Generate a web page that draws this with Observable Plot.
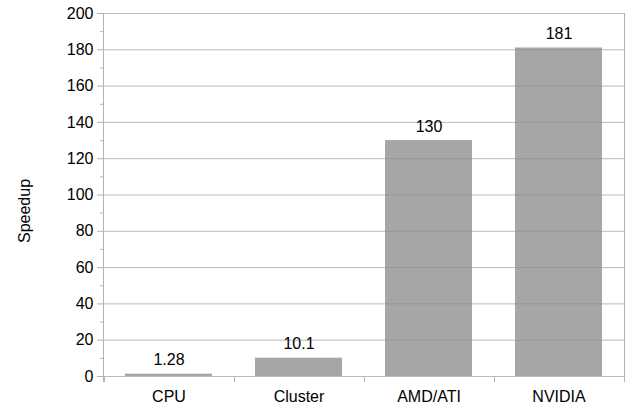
<!DOCTYPE html>
<html>
<head>
<meta charset="utf-8">
<script src="https://cdn.jsdelivr.net/npm/d3@7"></script>
<script src="https://cdn.jsdelivr.net/npm/@observablehq/plot@0.6"></script>
<style>
  html, body { margin: 0; padding: 0; background: #fff; }
  svg { display: block; }
</style>
</head>
<body>
<div id="chart"></div>
<script>
const categories = ["CPU", "Cluster", "AMD/ATI", "NVIDIA"];
const speedups = [1.28, 10.1, 130, 181];
const labels = ["1.28", "10.1", "130", "181"];
const majorTicks = [0, 20, 40, 60, 80, 100, 120, 140, 160, 180, 200];
const minorTicks = [10, 30, 50, 70, 90, 110, 130, 150, 170, 190];
const yTitle = "Speedup";

const data = categories.map((c, i) => ({category: c, value: speedups[i], label: labels[i]}));

const gridColor = "#b3b3b3";

// left axis line, right border, and boundary ticks below the x axis
function frameLines(index, scales, values, dimensions) {
  const x = scales.x;
  const step = x.step();
  const bw = x.bandwidth();
  const y0 = dimensions.height - dimensions.marginBottom;
  const top = dimensions.marginTop;
  const left = dimensions.marginLeft;
  const right = dimensions.width - dimensions.marginRight;
  const g = d3.create("svg:g").attr("stroke", gridColor);
  const edges = categories.map(c => x(c) + bw / 2 - step / 2);
  edges.push(x(categories[categories.length - 1]) + bw / 2 + step / 2);
  for (const e of edges) {
    g.append("line")
      .attr("x1", Math.round(e) + 0.5).attr("x2", Math.round(e) + 0.5)
      .attr("y1", y0).attr("y2", y0 + 6);
  }
  g.append("line").attr("x1", left + 0.5).attr("x2", left + 0.5).attr("y1", top).attr("y2", y0 + 6);
  g.append("line").attr("x1", right + 0.5).attr("x2", right + 0.5).attr("y1", top).attr("y2", y0);
  return g.node();
}

const chart = Plot.plot({
  width: 632,
  height: 411,
  marginLeft: 103,
  marginRight: 8,
  marginTop: 13,
  marginBottom: 35,
  style: {fontFamily: "'Liberation Sans', Arial, sans-serif", fontSize: "16px", color: "#000", background: "#fff"},
  x: {domain: categories, paddingInner: 0.33, paddingOuter: 0.165},
  y: {domain: [0, 200]},
  marks: [
    Plot.barY(data, {x: "category", y: "value", fill: "#a6a6a6"}),
    Plot.gridY(majorTicks, {stroke: "#8e8e8e", strokeOpacity: 0.6}),
    Plot.axisY(majorTicks, {tickSize: 6, tickPadding: 4, stroke: gridColor, fill: "#000", fontSize: 16, label: null}),
    Plot.axisY(minorTicks, {tickSize: 3, text: null, stroke: gridColor, label: null}),
    Plot.text([yTitle], {frameAnchor: "left", textAnchor: "middle", lineAnchor: "middle", rotate: -90, dx: -79, dy: 16, fill: "#000", fontSize: 16}),
    Plot.axisX({tickSize: 0, tickPadding: 14, fill: "#000", fontSize: 16, label: null}),
    Plot.text(data, {x: "category", y: "value", text: "label", dy: -14, fill: "#000", fontSize: 16}),
    frameLines
  ]
});

document.getElementById("chart").appendChild(chart);
</script>
</body>
</html>
